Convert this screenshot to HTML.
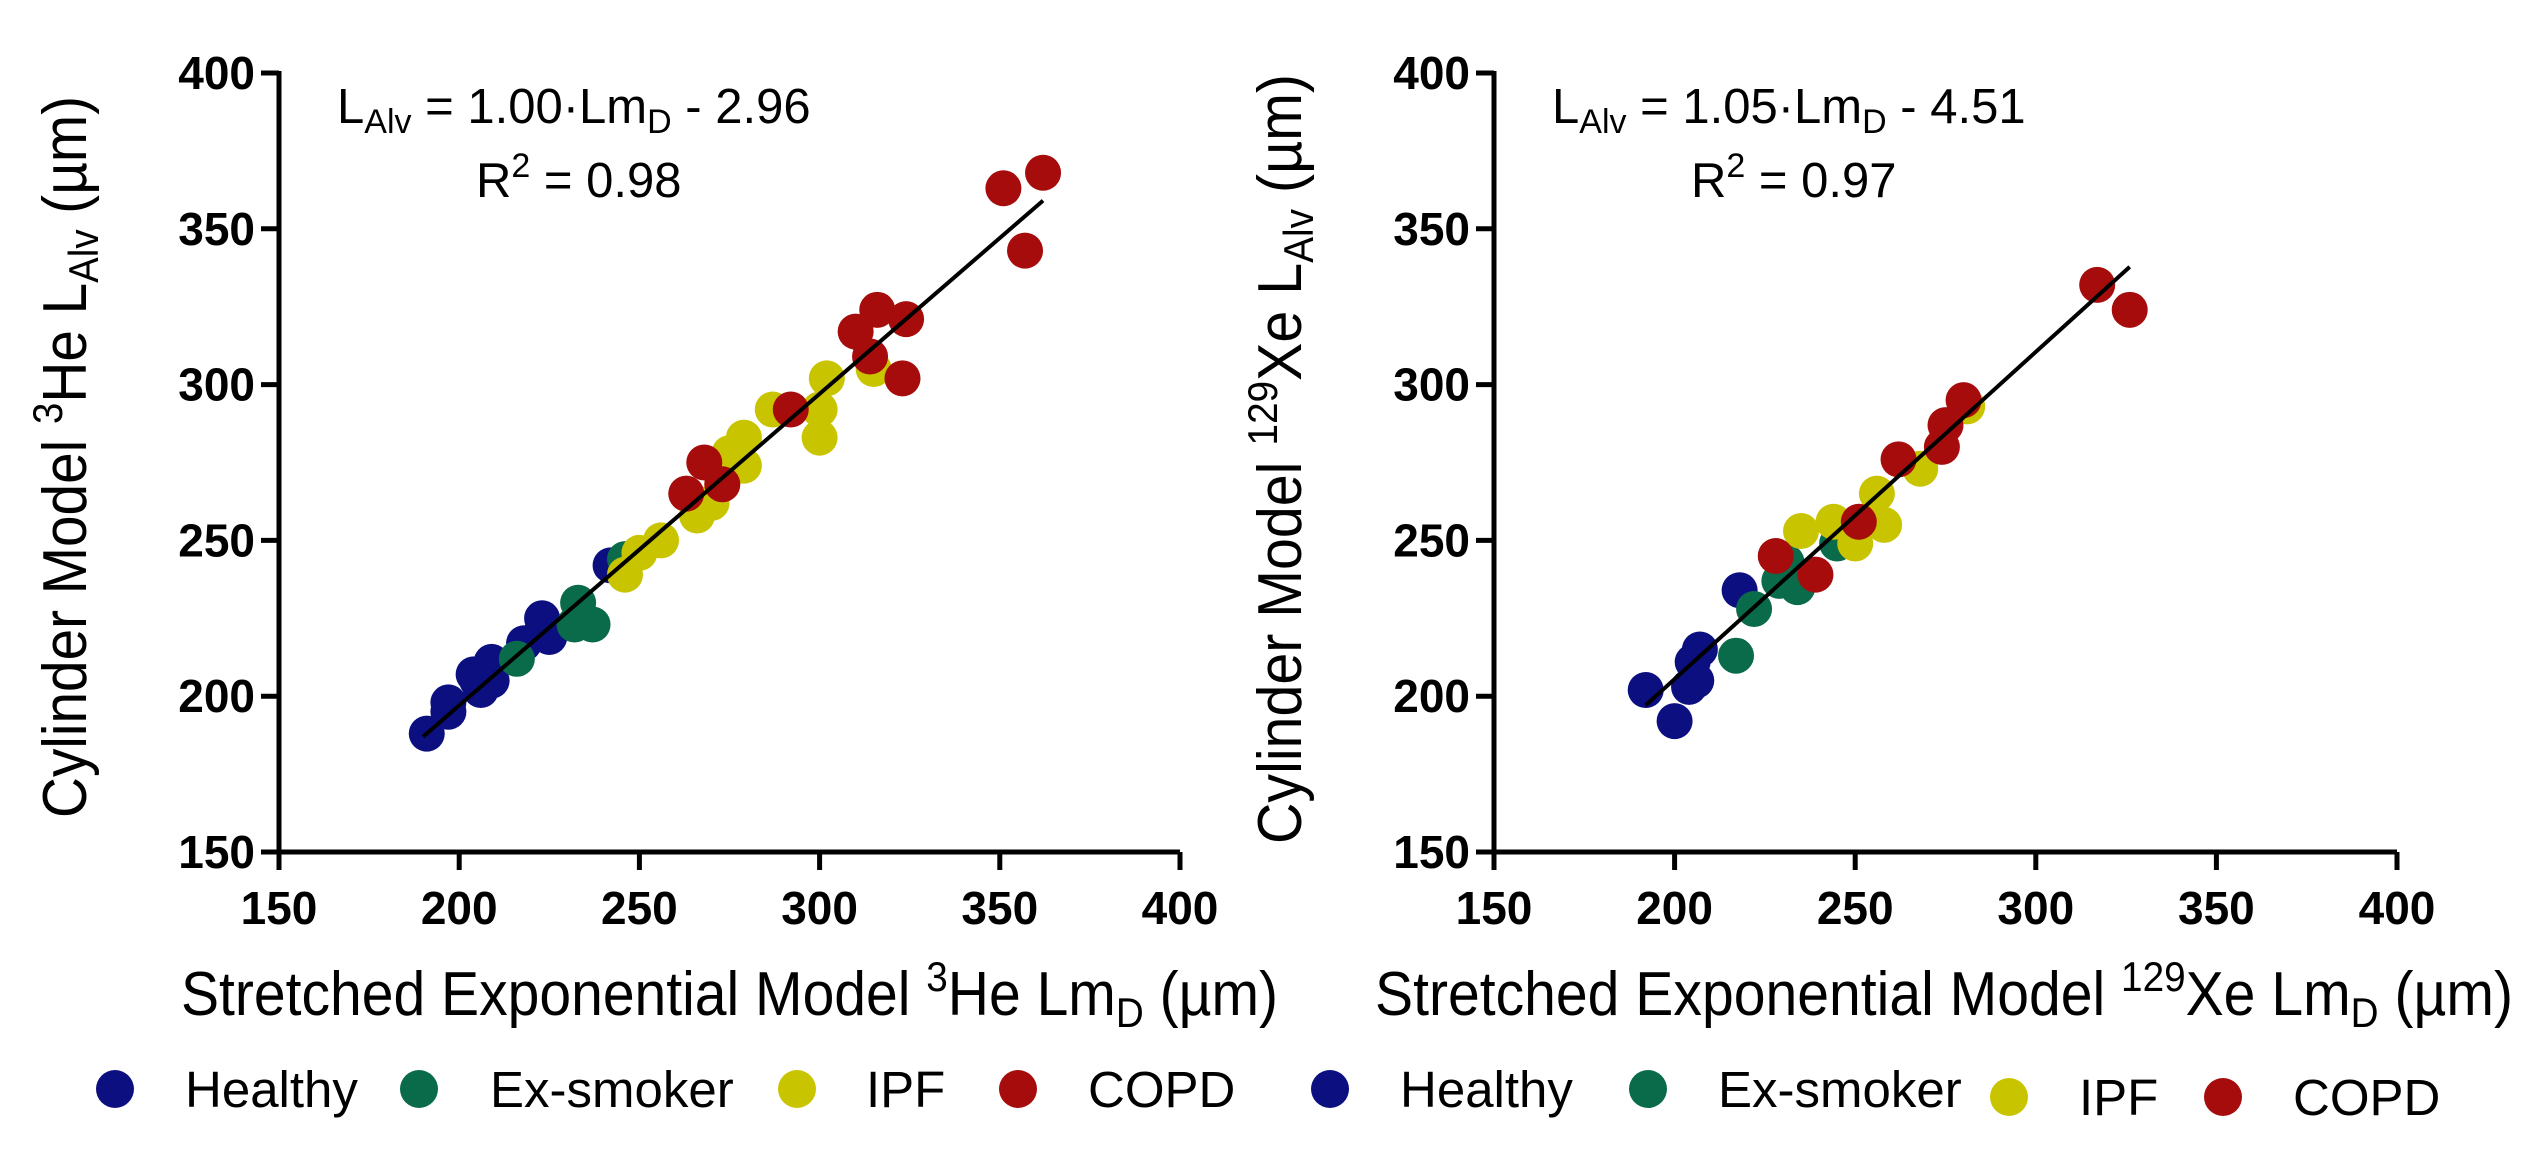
<!DOCTYPE html>
<html><head><meta charset="utf-8"><style>
html,body{margin:0;padding:0;background:#fff}
svg{display:block;font-family:"Liberation Sans",Arial,sans-serif}
</style></head><body>
<svg id="fig" width="2540" height="1150" viewBox="0 0 2540 1150">
<g id="left"></g>
<g id="right"></g>
</svg>
<script>
const tickValues=[150,200,250,300,350,400];
const groups=["Healthy","Ex-smoker","IPF","COPD"];
const colors=["#0c0f80","#0a6b4b","#c9c400","#a60c0c"];
// Left panel data (3He)
const heHealthyX=[191,197,197,205,206,209,209,204,218,223,223,225,242];
const heHealthyY=[188,195,198,205,202,205,211,207,217,221,225,219,242];
const heExX=[216,233,232,237,246];
const heExY=[212,230,223,223,244];
const heIpfX=[246,250,256,266,270,273,275,279,279,287,300,300,302,315];
const heIpfY=[239,246,250,258,262,268,278,283,274,292,292,283,302,305];
const heCopdX=[263,268,273,292,310,314,316,324,323,351,362,357];
const heCopdY=[265,275,268,292,317,309,324,321,302,363,368,343];
const heFit=[1.00,-2.96,190,362];
// Right panel data (129Xe)
const xeHealthyX=[192,200,204,206,205,207,218];
const xeHealthyY=[202,192,203,205,211,215,234];
const xeExX=[217,222,231,229,234,245];
const xeExY=[213,228,243,237,235,249];
const xeIpfX=[235,244,250,256,258,268,281];
const xeIpfY=[253,256,249,265,255,273,293];
const xeCopdX=[228,239,251,262,274,275,280,317,326];
const xeCopdY=[245,239,256,276,280,287,295,332,324];
const xeFit=[1.05,-4.51,192,326];

const NS="http://www.w3.org/2000/svg";
function mk(p,tag,attrs,txt){const e=document.createElementNS(NS,tag);for(const k in attrs)e.setAttribute(k,attrs[k]);if(txt!==undefined)e.textContent=txt;p.appendChild(e);return e;}

function panel(g,x0,x1,series,fit,eq,r2,iso,leg,tl){
  const y0=852,y1=73;
  const sx=v=>x0+(v-150)/250*(x1-x0);
  const sy=v=>y0-(v-150)/250*(y0-y1);
  const ax=mk(g,'path',{d:`M${x0} ${y1-2}V${y0}H${x1}`,stroke:'#000','stroke-width':5,fill:'none'});
  
  
  tickValues.forEach(v=>{
    const t1=mk(g,'line',{x1:x0-18,x2:x0,y1:sy(v),y2:sy(v),stroke:'#000','stroke-width':5});
    
    
    const l1=mk(g,'text',{x:x0-24,y:sy(v)+16,'text-anchor':'end','font-size':46,'font-weight':'bold'},v);
    
    
    const t2=mk(g,'line',{x1:sx(v),x2:sx(v),y1:y0,y2:y0+18,stroke:'#000','stroke-width':5});
    
    
    const l2=mk(g,'text',{x:sx(v),y:924,'text-anchor':'middle','font-size':46,'font-weight':'bold'},v);
    
    
  });
  series.forEach((s,i)=>{
    s[0].forEach((xv,j)=>{
      const c=mk(g,'circle',{cx:sx(xv),cy:sy(s[1][j]),r:18,fill:colors[i]});
      
      
    });
  });
  const fl=mk(g,'line',{x1:sx(fit[2]),y1:sy(fit[0]*fit[2]+fit[1]),x2:sx(fit[3]),y2:sy(fit[0]*fit[3]+fit[1]),stroke:'#000','stroke-width':4});
  
  
  const e=mk(g,'text',{x:eq[0],y:123,'font-size':49});
  e.innerHTML=`L<tspan font-size="34" dy="10">Alv</tspan><tspan dy="-10"> = ${eq[2]}·Lm</tspan><tspan font-size="34" dy="10">D</tspan><tspan dy="-10"> - ${eq[3]}</tspan>`;
  
  
  const r=mk(g,'text',{x:eq[1],y:197,'font-size':49});
  r.innerHTML=`R<tspan font-size="34" dy="-20">2</tspan><tspan dy="20"> = ${r2}</tspan>`;
  
  
  const yt=mk(g,'text',{transform:`translate(${x0-193},${tl[3]}) rotate(-90)`,'text-anchor':'middle','font-size':62,textLength:tl[2],lengthAdjust:'spacingAndGlyphs'});
  yt.innerHTML=`Cylinder Model <tspan font-size="42" dy="-24">${iso[0]}</tspan><tspan dy="24">${iso[1]} L</tspan><tspan font-size="42" dy="12">Alv</tspan><tspan dy="-12"> (µm)</tspan>`;
  
  
  const xt=mk(g,'text',{x:tl[0],y:1015,'font-size':62,textLength:tl[1],lengthAdjust:'spacingAndGlyphs'});
  xt.innerHTML=`Stretched Exponential Model <tspan font-size="42" dy="-24">${iso[0]}</tspan><tspan dy="24">${iso[1]} Lm</tspan><tspan font-size="42" dy="12">D</tspan><tspan dy="-12"> (µm)</tspan>`;
  
  
  groups.forEach((n,i)=>{
    const d=mk(g,'circle',{cx:leg[0][i],cy:leg[2][i],r:19,fill:colors[i]});
    
    
    const t=mk(g,'text',{x:leg[1][i],y:leg[2][i]+18,'font-size':51},n);
    
    
  });
}
panel(document.getElementById('left'),279,1180,
  [[heHealthyX,heHealthyY],[heExX,heExY],[heIpfX,heIpfY],[heCopdX,heCopdY]],
  heFit,[337,476,'1.00','2.96'],'0.98',['3','He'],
  [[115,419,797,1018],[185,490,866,1088],[1089,1089,1089,1089]],[181,1097,722,457]);
panel(document.getElementById('right'),1494,2397,
  [[xeHealthyX,xeHealthyY],[xeExX,xeExY],[xeIpfX,xeIpfY],[xeCopdX,xeCopdY]],
  xeFit,[1552,1691,'1.05','4.51'],'0.97',['129','Xe'],
  [[1330,1648,2009,2223],[1400,1718,2079,2293],[1089,1089,1097,1097]],[1375,1138,770,459]);
</script>
</body></html>
